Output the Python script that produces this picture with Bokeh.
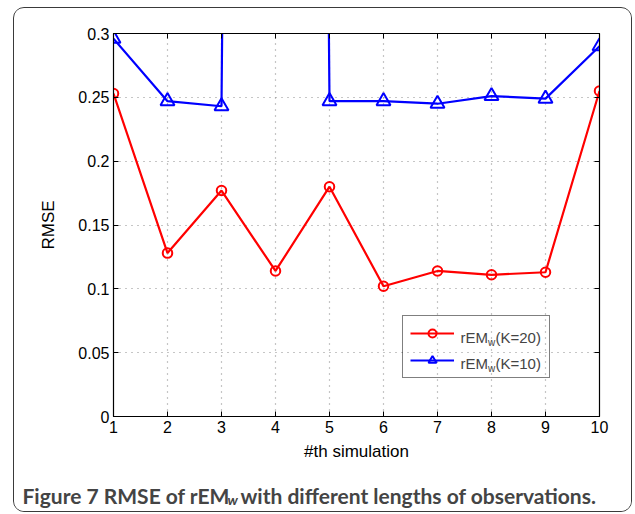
from bokeh.plotting import figure
from bokeh.layouts import column
from bokeh.models import Legend, LegendItem, Label, LinearAxis, FixedTicker, Range1d
from bokeh.embed import file_html
from bokeh.resources import INLINE

# ---- data ----
sim = [1, 2, 3, 4, 5, 6, 7, 8, 9, 10]
rmse_k20 = [0.253, 0.128, 0.177, 0.114, 0.180, 0.102, 0.114, 0.111, 0.113, 0.255]
rmse_k10 = [0.296, 0.247, 0.243, 5.0, 0.247, 0.247, 0.245, 0.251, 0.249, 0.290]
x_ticks = [1, 2, 3, 4, 5, 6, 7, 8, 9, 10]
y_ticks = [0, 0.05, 0.1, 0.15, 0.2, 0.25, 0.3]
y_tick_labels = ["0", "0.05", "0.1", "0.15", "0.2", "0.25", "0.3"]
x_label = "#th simulation"
y_label = "RMSE"
legend_base = "rEM"
legend_sub = "w"
legend_k = ["(K=20)", "(K=10)"]
caption_main = "Figure 7 RMSE of rEM"
caption_sub = "w"
caption_rest = " with different lengths of observations."

FONT = "Liberation Sans"
CAP_FONT = "Lato"

W = 617
p = figure(width=W, height=462, output_backend="svg", toolbar_location=None,
           x_range=Range1d(1, 10), y_range=Range1d(0, 0.3),
           x_axis_label=x_label, y_axis_label=y_label)
p.frame_align = False
p.min_border_left = 99
p.min_border_top = 25
p.min_border_right = 32
p.min_border_bottom = 54
p.border_fill_color = "white"
p.background_fill_color = "white"
p.outline_line_color = "black"
p.outline_line_width = 1.2

for ax in p.xaxis + p.yaxis:
    ax.major_tick_in = 5
    ax.major_tick_out = 0
    ax.minor_tick_in = 0
    ax.minor_tick_out = 0
    ax.axis_line_color = "black"
    ax.major_tick_line_color = "black"
    ax.major_label_text_font = FONT
    ax.major_label_text_font_size = "16px"
    ax.major_label_text_color = "black"
    ax.axis_label_text_font = FONT
    ax.axis_label_text_font_size = "17px"
    ax.axis_label_text_font_style = "normal"
    ax.axis_label_text_color = "black"

p.xaxis.ticker = FixedTicker(ticks=x_ticks)
p.yaxis.ticker = FixedTicker(ticks=y_ticks)
p.yaxis.major_label_overrides = {t: l for t, l in zip(y_ticks, y_tick_labels)}
p.xaxis.major_label_standoff = 4
p.yaxis.major_label_standoff = 4
p.xaxis.axis_label_standoff = 6
p.yaxis.axis_label_standoff = 17

# top / right ticks (box)
top = LinearAxis(ticker=FixedTicker(ticks=x_ticks),
                 major_label_overrides={t: "" for t in x_ticks},
                 major_tick_in=5, major_tick_out=0, minor_tick_in=0, minor_tick_out=0,
                 axis_line_color="black", major_tick_line_color="black")
right = LinearAxis(ticker=FixedTicker(ticks=y_ticks),
                   major_label_overrides={t: "" for t in y_ticks},
                   major_tick_in=5, major_tick_out=0, minor_tick_in=0, minor_tick_out=0,
                   axis_line_color="black", major_tick_line_color="black")
p.add_layout(top, "above")
p.add_layout(right, "right")

for g in (p.xgrid, p.ygrid):
    g.grid_line_color = "#8c8c8c"
    g.grid_line_dash = "1 5"
    g.grid_line_width = 1.2

red_line = p.line(sim, rmse_k20, line_color="#ff0000", line_width=2.2)
red_pts = p.scatter(sim, rmse_k20, marker="circle", size=9.5, line_color="#ff0000",
                    line_width=2, fill_color="white", fill_alpha=0)
blue_line = p.line(sim, rmse_k10, line_color="#0000ff", line_width=2.2)
blue_pts = p.scatter(sim, rmse_k10, marker="triangle", size=14, line_color="#0000ff",
                     line_width=2, fill_color="white", fill_alpha=0)

legend = Legend(items=[LegendItem(label=" ", renderers=[red_line, red_pts]),
                       LegendItem(label=" ", renderers=[blue_line, blue_pts])],
                location=(289, 38), margin=0, padding=7, spacing=7,
                glyph_width=44, glyph_height=20, label_height=20, label_width=83,
                label_standoff=5, border_line_color="black", border_line_width=1.3,
                background_fill_color="white", background_fill_alpha=0)
p.add_layout(legend, "center")

row_base = [79, 53]
for i, k in enumerate(legend_k):
    b = row_base[i]
    p.add_layout(Label(x=347, y=b, x_units="screen", y_units="screen", text=legend_base,
                       text_font=FONT, text_font_size="15px", text_baseline="alphabetic"))
    p.add_layout(Label(x=374.5, y=b - 5, x_units="screen", y_units="screen", text=legend_sub,
                       text_font=FONT, text_font_size="10px", text_baseline="alphabetic"))
    p.add_layout(Label(x=382, y=b, x_units="screen", y_units="screen", text=k,
                       text_font=FONT, text_font_size="15px", text_baseline="alphabetic"))

# caption panel (pixel coordinates)
CH = 41
cap = figure(width=W, height=CH, output_backend="svg", toolbar_location=None,
             x_range=Range1d(0, W), y_range=Range1d(0, CH),
             x_axis_type=None, y_axis_type=None, min_border=0)
cap.frame_align = False
cap.outline_line_color = None
cap.border_fill_color = "white"
cap.background_fill_color = "white"
cap.add_layout(Label(x=8, y=16, text=caption_main, text_font=CAP_FONT,
                     text_font_style="bold", text_font_size="21px", text_baseline="alphabetic"))
cap.add_layout(Label(x=213, y=12, text=caption_sub, text_font=CAP_FONT,
                     text_font_style="bold italic", text_font_size="14px", text_baseline="alphabetic"))
cap.add_layout(Label(x=226, y=16, text=caption_rest, text_font=CAP_FONT,
                     text_font_style="bold", text_font_size="21px", text_baseline="alphabetic"))

layout = column(p, cap, spacing=0)
layout.margin = (7, 0, 0, 13)
layout.styles = {"border": "1px solid #3a3a3a", "border-radius": "11px", "overflow": "hidden",
                 "background": "white"}

open("out.html", "w").write(file_html(layout, INLINE))
